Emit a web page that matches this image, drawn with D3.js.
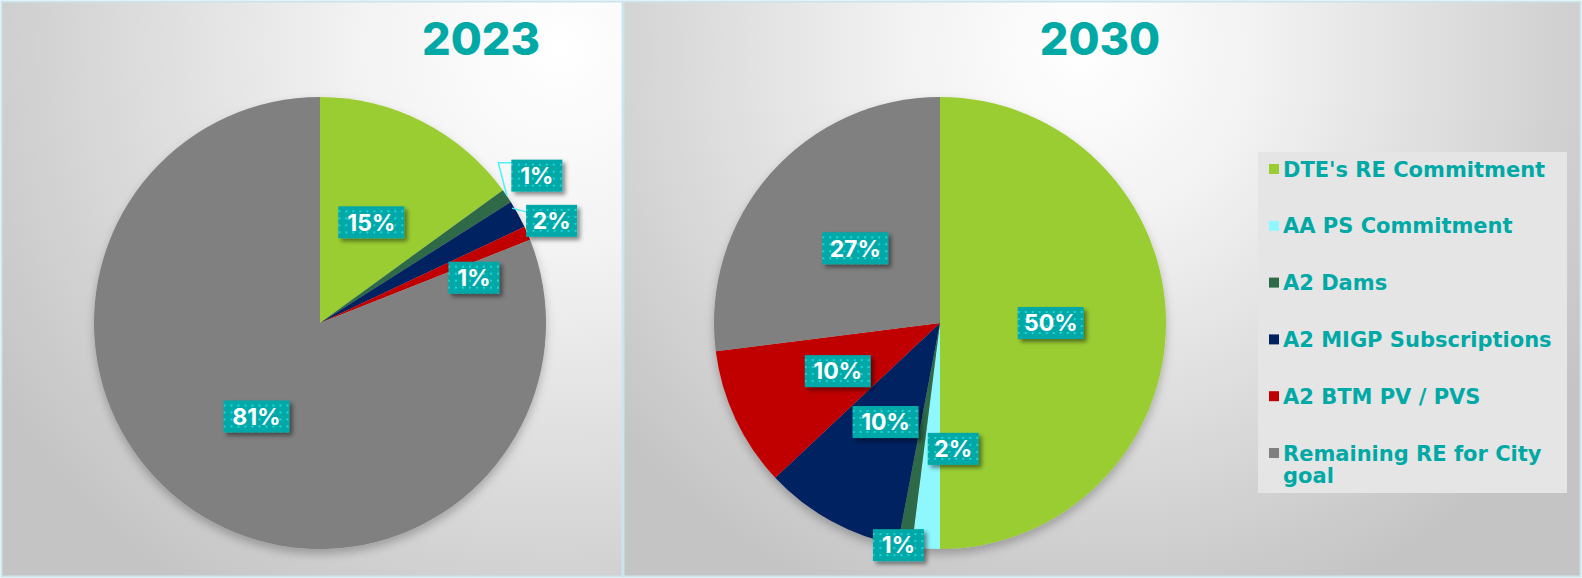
<!DOCTYPE html>
<html>
<head>
<meta charset="utf-8">
<script src="https://cdn.jsdelivr.net/npm/d3@7"></script>
<style>
  html, body { margin: 0; padding: 0; background: #fff; }
  svg { display: block; font-family: Inter, "Noto Sans", sans-serif; }
</style>
</head>
<body>
<svg width="1582" height="578"></svg>
<script>
// Data
const categories = ["DTE's RE Commitment", "AA PS Commitment", "A2 Dams",
  "A2 MIGP Subscriptions", "A2 BTM PV / PVS", "Remaining RE for City goal"];
const values2023 = [15, 0, 1, 2, 1, 81];
const values2030 = [50, 2, 1, 10, 10, 27];
const years = ["2023", "2030"];
const colors = ["#9acd32", "#8ff8ff", "#2d6a47", "#002060", "#c00000", "#808080"];

// Label placement (radius factor, angle nudge in degrees)
const labelPlace2023 = [[0.5, 0], [0.5, 0], [1.16, 0], [1.12, 5], [0.71, 7], [0.5, 0]];
const labelPlace2030 = [[0.49, 0], [0.56, -9.6], [1.0, 1.6], [0.5, 0], [0.5, 0], [0.5, 0]];

const svg = d3.select("svg");
const defs = svg.append("defs");

// Hintergrund-Verläufe
const g1 = defs.append("radialGradient").attr("id", "bgLeft")
  .attr("gradientUnits", "userSpaceOnUse")
  .attr("cx", 560).attr("cy", 50).attr("r", 660);
g1.append("stop").attr("offset", 0).attr("stop-color", "#ffffff");
g1.append("stop").attr("offset", 0.3).attr("stop-color", "#f3f3f3");
g1.append("stop").attr("offset", 1).attr("stop-color", "#c4c4c4");

const g2 = defs.append("radialGradient").attr("id", "bgRight")
  .attr("gradientUnits", "userSpaceOnUse")
  .attr("cx", 1080).attr("cy", 50).attr("r", 600);
g2.append("stop").attr("offset", 0).attr("stop-color", "#ffffff");
g2.append("stop").attr("offset", 0.3).attr("stop-color", "#f2f2f2");
g2.append("stop").attr("offset", 1).attr("stop-color", "#c4c4c4");

// Punktmuster für Labels
const pat = defs.append("pattern").attr("id", "dots")
  .attr("patternUnits", "userSpaceOnUse").attr("width", 7).attr("height", 7);
pat.append("rect").attr("width", 7).attr("height", 7).attr("fill", "#00a8a8");
pat.append("rect").attr("x", 2).attr("y", 2).attr("width", 2).attr("height", 2).attr("fill", "#22d4d4");

const sh = defs.append("filter").attr("id", "lblShadow")
  .attr("x", "-20%").attr("y", "-30%").attr("width", "150%").attr("height", "180%");
sh.append("feDropShadow").attr("dx", 3).attr("dy", 3).attr("stdDeviation", 2)
  .attr("flood-color", "#000").attr("flood-opacity", 0.45);

const pieSh = defs.append("filter").attr("id", "pieShadow")
  .attr("x", "-10%").attr("y", "-10%").attr("width", "120%").attr("height", "125%");
pieSh.append("feDropShadow").attr("dx", 0).attr("dy", 5).attr("stdDeviation", 5)
  .attr("flood-color", "#000").attr("flood-opacity", 0.25);

// Panels
const panels = [
  { x: 1.5, w: 621, fill: "url(#bgLeft)", cx: 320, title: 481 },
  { x: 623.5, w: 957, fill: "url(#bgRight)", cx: 940, title: 1100 }
];
panels.forEach(p => {
  svg.append("rect").attr("x", p.x).attr("y", 1.5).attr("width", p.w).attr("height", 575)
    .attr("fill", p.fill).attr("stroke", "#cbe5ec").attr("stroke-width", 2);
});

const R = 226, cy = 323;
const pie = d3.pie().sort(null).value(d => d.v);
const arc = d3.arc().innerRadius(0).outerRadius(R);

function drawPie(vals, place, p, year) {
  const data = categories.map((c, i) => ({ c, v: vals[i], i }));
  const arcs = pie(data);
  const g = svg.append("g").attr("transform", `translate(${p.cx},${cy})`);

  g.append("g").attr("filter", "url(#pieShadow)")
    .selectAll("path").data(arcs).join("path")
    .attr("d", arc).attr("fill", d => colors[d.data.i]);

  svg.append("text").attr("x", p.title).attr("y", 55)
    .attr("text-anchor", "middle").attr("fill", "#00a9a5")
    .attr("font-size", 45).attr("font-weight", 800).text(year);

  arcs.filter(d => d.data.v > 0).forEach(d => {
    const [k, da] = place[d.data.i];
    const mid = (d.startAngle + d.endAngle) / 2;
    const a = mid + da * Math.PI / 180;
    const lx = Math.sin(a) * R * k, ly = -Math.cos(a) * R * k;
    const txt = d.data.v + "%";
    const w = txt.length === 3 ? 66 : 51, h = 32;

    // Führungslinien für außenliegende Labels
    if (k > 1.05) {
      const ex = Math.sin(mid) * R, ey = -Math.cos(mid) * R;
      let pts;
      if (da === 0) pts = [[ex, ey], [lx - w / 2 - 13, ly - h / 2 + 3], [lx - w / 2, ly - h / 2 + 3]];
      else pts = [[ex - 6, ey - 6], [lx - w / 2, ly - h / 2 + 7]];
      g.append("path").attr("d", d3.line()(pts))
        .attr("fill", "none").attr("stroke", "#4ff0f8").attr("stroke-width", 1.5);
    }

    const lg = g.append("g").attr("transform", `translate(${lx},${ly})`);
    lg.append("rect").attr("x", -w / 2).attr("y", -h / 2).attr("width", w).attr("height", h)
      .attr("fill", "url(#dots)").attr("filter", "url(#lblShadow)");
    lg.append("text").attr("text-anchor", "middle").attr("dy", "0.36em")
      .attr("fill", "#fff").attr("font-size", 23).attr("font-weight", 700).text(txt);
  });
}

drawPie(values2023, labelPlace2023, panels[0], years[0]);
drawPie(values2030, labelPlace2030, panels[1], years[1]);

// Legende
const leg = svg.append("g");
leg.append("rect").attr("x", 1258).attr("y", 152).attr("width", 309).attr("height", 341)
  .attr("fill", "#e5e5e5");
const legY = d3.scalePoint().domain(categories).range([169, 453]);
categories.forEach((c, i) => {
  const y = legY(c);
  leg.append("rect").attr("x", 1269).attr("y", y - 5).attr("width", 10).attr("height", 10)
    .attr("fill", colors[i]);
  const t = leg.append("text").attr("x", 1283).attr("y", y).attr("dy", "0.36em")
    .attr("fill", "#00a9a5").attr("font-size", 21).attr("font-weight", 700)
    .style("font-family", "'DejaVu Sans', sans-serif");
  if (c === "Remaining RE for City goal") {
    t.append("tspan").text("Remaining RE for City");
    t.append("tspan").attr("x", 1283).attr("dy", "1.05em").text("goal");
  } else {
    t.text(c);
  }
});
</script>
</body>
</html>
